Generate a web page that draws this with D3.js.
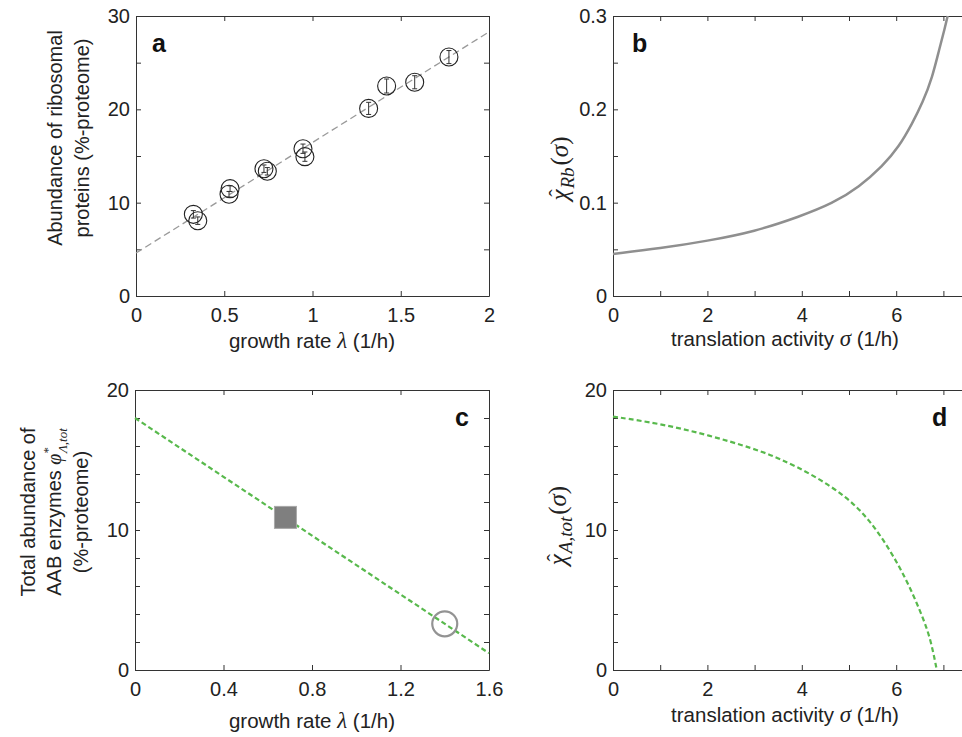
<!DOCTYPE html>
<html>
<head>
<meta charset="utf-8">
<script src="https://cdn.jsdelivr.net/npm/d3@7"></script>
<style>
  body { margin: 0; background: #fff; }
  svg { display: block; font-family: "Liberation Sans", Arial, sans-serif; }
  .tick text { font-size: 20px; fill: #222; }
  .domain, .tick line { stroke: #333; }
</style>
</head>
<body>
<script>
// panel a: measured ribosomal abundance vs growth rate
const growthA = [0.325, 0.35, 0.533, 0.527, 0.725, 0.744, 0.946, 0.957, 1.318, 1.42, 1.579, 1.773];
const ribA    = [8.75, 8.07, 11.5, 10.9, 13.64, 13.36, 15.78, 14.93, 20.1, 22.5, 22.9, 25.6];
const errA    = [0.4, 0.4, 0.3, 0.3, 0.4, 0.4, 0.5, 0.5, 0.65, 0.75, 0.7, 0.7];
const fitLambdaA = [0, 2];
const fitRibA    = [4.6, 28.3];

// panel b: chi_Rb(sigma)
const sigmaB = [0, 1, 2, 3, 3.95, 4.65, 5.22, 5.71, 6.06, 6.34, 6.56, 6.77, 6.91, 7.03, 7.09];
const chiRbB = [0.045, 0.051, 0.059, 0.069, 0.085, 0.099, 0.117, 0.139, 0.160, 0.185, 0.207, 0.235, 0.264, 0.287, 0.300];

// panel c: total AAB enzymes vs growth rate
const lambdaC = [0, 1.6];
const phiC    = [18.0, 1.2];
const squareC = [0.68, 10.9];
const circleC = [1.40, 3.3];

// panel d: chi_A,tot(sigma)
const sigmaD = [0, 1, 2, 3, 3.54, 4.24, 4.95, 5.44, 5.87, 6.22, 6.5, 6.72, 6.86];
const chiAD  = [18.1, 17.6, 16.8, 15.8, 15.1, 13.93, 12.38, 10.71, 8.57, 6.43, 4.29, 2.38, 0];

// ticks
const ticksXA = [0, 0.5, 1, 1.5, 2];
const ticksYA = [0, 5, 10, 15, 20, 25, 30];
const labelsYA = [0, 10, 20, 30];
const ticksXB = [0, 1, 2, 3, 4, 5, 6, 7];
const labelsXB = [0, 2, 4, 6];
const ticksYB = [0, 0.05, 0.1, 0.15, 0.2, 0.25, 0.3];
const labelsYB = [0, 0.1, 0.2, 0.3];
const ticksXC = [0, 0.4, 0.8, 1.2, 1.6];
const ticksYC = [0, 2, 4, 6, 8, 10, 12, 14, 16, 18, 20];
const labelsYC = [0, 10, 20];

const W = 962, H = 737;
const green = "#58b94c";
const serif = "'Liberation Serif', 'DejaVu Serif', serif";
const svg = d3.select("body").append("svg").attr("width", W).attr("height", H);

function panel(left, top, right, bottom, xDom, yDom, xT, xL, yT, yL) {
  const x = d3.scaleLinear().domain(xDom).range([left, right]);
  const y = d3.scaleLinear().domain(yDom).range([bottom, top]);
  const fmt = (labels) => (d) => labels.some(v => Math.abs(v - d) < 1e-9) ? d3.format("~g")(d) : "";
  const g = svg.append("g");
  g.append("g").attr("transform", "translate(0," + bottom + ")")
    .call(d3.axisBottom(x).tickValues(xT).tickFormat(fmt(xL)).tickSizeInner(-5).tickSizeOuter(0).tickPadding(12));
  g.append("g").attr("transform", "translate(0," + top + ")")
    .call(d3.axisTop(x).tickValues(xT).tickFormat("").tickSizeInner(-5).tickSizeOuter(0));
  g.append("g").attr("transform", "translate(" + left + ",0)")
    .call(d3.axisLeft(y).tickValues(yT).tickFormat(fmt(yL)).tickSizeInner(-5).tickSizeOuter(0).tickPadding(6));
  g.append("g").attr("transform", "translate(" + right + ",0)")
    .call(d3.axisRight(y).tickValues(yT).tickFormat("").tickSizeInner(-5).tickSizeOuter(0));
  return {x, y, g};
}

function panelLetter(px, py, s) {
  svg.append("text").attr("x", px).attr("y", py)
    .attr("font-size", 25).attr("font-weight", "bold").attr("fill", "#111").text(s);
}

function xTitle(cx, cy, before, sym, after) {
  const t = svg.append("text").attr("x", cx).attr("y", cy)
    .attr("text-anchor", "middle").attr("font-size", 20.5).attr("fill", "#222");
  t.append("tspan").text(before);
  t.append("tspan").attr("font-family", serif).attr("font-style", "italic").attr("font-size", 23).text(sym);
  t.append("tspan").text(after);
}

// rotated  chi-hat_{sub}(sigma)
function mathLabel(cx, cy, sub) {
  const g = svg.append("g").attr("transform", "translate(" + cx + "," + cy + ") rotate(-90)");
  const t = g.append("text").attr("y", 8).attr("font-family", serif)
    .attr("font-size", 25).attr("fill", "#222");
  t.append("tspan").attr("font-style", "italic").text("χ");
  t.append("tspan").attr("font-style", "italic").attr("font-size", 19).attr("dx", 1).attr("dy", 6).text(sub);
  t.append("tspan").attr("dx", 2).attr("dy", -6).text("(");
  t.append("tspan").attr("font-style", "italic").text("σ");
  t.append("tspan").text(")");
  const node = t.node();
  const total = node.getComputedTextLength();
  const wChi = node.getSubStringLength(0, 1);
  t.attr("x", -total / 2);
  g.append("text").attr("x", -total / 2 + wChi / 2 + 2).attr("y", 4)
    .attr("text-anchor", "middle").attr("font-family", serif).attr("font-size", 22)
    .attr("fill", "#222").text("ˆ");
}

// ---------- panel a ----------
const pa = panel(136, 16, 489, 296, [0, 2], [0, 30], ticksXA, ticksXA, ticksYA, labelsYA);
pa.g.append("line")
  .attr("x1", pa.x(fitLambdaA[0])).attr("y1", pa.y(fitRibA[0]))
  .attr("x2", pa.x(fitLambdaA[1])).attr("y2", pa.y(fitRibA[1]))
  .attr("stroke", "#9a9a9a").attr("stroke-width", 1.3).attr("stroke-dasharray", "7,4");
growthA.forEach((l, i) => {
  const cx = pa.x(l), cy = pa.y(ribA[i]);
  const y1 = pa.y(ribA[i] - errA[i]), y2 = pa.y(ribA[i] + errA[i]);
  pa.g.append("line").attr("x1", cx).attr("x2", cx).attr("y1", y1).attr("y2", y2)
    .attr("stroke", "#333").attr("stroke-width", 1);
  [y1, y2].forEach(yy => pa.g.append("line").attr("x1", cx - 2.5).attr("x2", cx + 2.5)
    .attr("y1", yy).attr("y2", yy).attr("stroke", "#333").attr("stroke-width", 1));
  pa.g.append("circle").attr("cx", cx).attr("cy", cy).attr("r", 9)
    .attr("fill", "none").attr("stroke", "#222").attr("stroke-width", 1.1);
});
panelLetter(152, 52, "a");
const tyA = svg.append("text").attr("transform", "translate(55,138) rotate(-90)")
  .attr("text-anchor", "middle").attr("font-size", 20).attr("fill", "#222");
tyA.append("tspan").attr("x", 0).attr("dy", "0.35em").text("Abundance of ribosomal");
tyA.append("tspan").attr("x", 0).attr("dy", 27).text("proteins (%-proteome)");
xTitle(312, 348, "growth rate ", "λ", " (1/h)");

// ---------- panel b ----------
const pb = panel(613, 16, 967, 296, [0, 7.5], [0, 0.3], ticksXB, labelsXB, ticksYB, labelsYB);
pb.g.append("path").datum(sigmaB.map((s, i) => [s, chiRbB[i]]))
  .attr("fill", "none").attr("stroke", "#8f8f8f").attr("stroke-width", 2.5)
  .attr("d", d3.line().x(d => pb.x(d[0])).y(d => pb.y(d[1])).curve(d3.curveBasis));
panelLetter(632, 52, "b");
xTitle(785, 346, "translation activity ", "σ", " (1/h)");
mathLabel(560, 170, "Rb");

// ---------- panel c ----------
const pc = panel(135, 390, 489, 670, [0, 1.6], [0, 20], ticksXC, ticksXC, ticksYC, labelsYC);
pc.g.append("line")
  .attr("x1", pc.x(lambdaC[0])).attr("y1", pc.y(phiC[0]))
  .attr("x2", pc.x(lambdaC[1])).attr("y2", pc.y(phiC[1]))
  .attr("stroke", green).attr("stroke-width", 2.2).attr("stroke-dasharray", "5,3");
pc.g.append("rect")
  .attr("x", pc.x(squareC[0]) - 11).attr("y", pc.y(squareC[1]) - 11)
  .attr("width", 22).attr("height", 22)
  .attr("fill", "#7f7f7f").attr("stroke", "#a8a8a8").attr("stroke-width", 1);
pc.g.append("circle").attr("cx", pc.x(circleC[0])).attr("cy", pc.y(circleC[1])).attr("r", 12.5)
  .attr("fill", "none").attr("stroke", "#939393").attr("stroke-width", 2.2);
panelLetter(455, 426, "c");
const tyC = svg.append("text").attr("transform", "translate(28,512) rotate(-90)")
  .attr("text-anchor", "middle").attr("font-size", 20).attr("fill", "#222");
tyC.append("tspan").attr("x", 0).attr("dy", "0.35em").text("Total abundance of");
tyC.append("tspan").attr("x", 0).attr("dy", 26).text("AAB enzymes ");
tyC.append("tspan").attr("font-family", serif).attr("font-style", "italic").text("φ");
tyC.append("tspan").attr("font-family", serif).attr("font-size", 13).attr("dy", -9).text("*");
tyC.append("tspan").attr("font-family", serif).attr("font-style", "italic")
  .attr("font-size", 13).attr("dx", -6).attr("dy", 15).text("Λ,tot");
tyC.append("tspan").attr("x", 0).attr("dy", 21).text("(%-proteome)");
xTitle(312, 728, "growth rate ", "λ", " (1/h)");

// ---------- panel d ----------
const pd = panel(613, 390, 967, 670, [0, 7.5], [0, 20], ticksXB, labelsXB, ticksYC, labelsYC);
pd.g.append("path").datum(sigmaD.map((s, i) => [s, chiAD[i]]))
  .attr("fill", "none").attr("stroke", green).attr("stroke-width", 2.2).attr("stroke-dasharray", "5,3")
  .attr("d", d3.line().x(d => pd.x(d[0])).y(d => pd.y(d[1])).curve(d3.curveBasis));
panelLetter(932, 426, "d");
xTitle(785, 722, "translation activity ", "σ", " (1/h)");
mathLabel(558, 527, "A,tot");
</script>
</body>
</html>
